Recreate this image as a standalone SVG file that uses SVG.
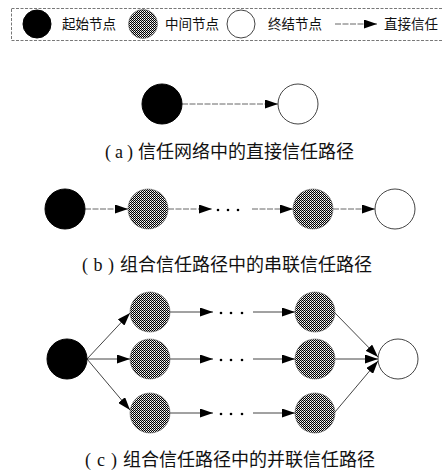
<svg xmlns="http://www.w3.org/2000/svg" width="442" height="472" viewBox="0 0 442 472">
<style>
.start{fill:#000;stroke:#000;stroke-width:1}
.mid{fill:url(#dots);stroke:#666;stroke-width:0.6}
.end{fill:#fff;stroke:#444;stroke-width:1}
.dash{stroke:#555;stroke-width:0.9;stroke-dasharray:6,1.5;fill:none}
.solid{stroke:#444;stroke-width:1;fill:none}
.lbl{font-family:"Noto Sans CJK SC","Liberation Sans",sans-serif;font-size:13.5px;fill:#111}
.cap{font-family:"Noto Sans CJK SC","Liberation Serif",sans-serif;font-size:18px;fill:#111}
.par{font-family:"Liberation Serif","Noto Sans CJK SC",serif;font-size:18px;fill:#111}
.dot{fill:#000}
</style>
<defs>
<pattern id="dots" width="2" height="2" patternUnits="userSpaceOnUse">
<rect width="2" height="2" fill="#fff"/>
<rect width="1" height="1" fill="#000"/>
<rect x="1" y="1" width="1" height="1" fill="#000"/>
<rect x="1" y="0" width="1" height="1" fill="#bbb"/>
</pattern>
<marker id="arr" markerWidth="13" markerHeight="9" refX="13" refY="4.5" orient="auto" markerUnits="userSpaceOnUse">
<path d="M0,0 L13,4.5 L0,9 z" fill="#000"/>
</marker>
</defs>

<g id="legend">
<rect x="11.5" y="8.5" width="440" height="32" fill="#fff" stroke="#555" stroke-width="0.8" stroke-dasharray="3,1.5"/>
<circle class="start" cx="37" cy="24" r="14"/>
<text class="lbl" x="62" y="29">起始节点</text>
<circle class="mid" cx="143" cy="24" r="14.5"/>
<text class="lbl" x="165" y="29">中间节点</text>
<circle class="end" cx="241" cy="24" r="14"/>
<text class="lbl" x="268" y="29">终结节点</text>
<line class="dash" x1="335" y1="24" x2="377" y2="24" marker-end="url(#arr)"/>
<text class="lbl" x="384" y="29">直接信任</text>
</g>

<g id="connectors">
<line class="dash" x1="182" y1="104" x2="278" y2="104" marker-end="url(#arr)"/>

<line class="dash" x1="85" y1="209" x2="128" y2="209" marker-end="url(#arr)"/>
<line class="dash" x1="168" y1="209" x2="212" y2="209" marker-end="url(#arr)"/>
<line class="dash" x1="252" y1="209" x2="293" y2="209" marker-end="url(#arr)"/>
<line class="dash" x1="333" y1="209" x2="375" y2="209" marker-end="url(#arr)"/>

<line class="solid" x1="87" y1="359" x2="130" y2="313" marker-end="url(#arr)"/>
<line class="solid" x1="87" y1="359" x2="130" y2="359" marker-end="url(#arr)"/>
<line class="solid" x1="87" y1="359" x2="130" y2="410" marker-end="url(#arr)"/>

<line class="solid" x1="170" y1="312" x2="213" y2="312" marker-end="url(#arr)"/>
<line class="solid" x1="253" y1="312" x2="295" y2="312" marker-end="url(#arr)"/>
<line class="solid" x1="170" y1="359" x2="213" y2="359" marker-end="url(#arr)"/>
<line class="solid" x1="253" y1="359" x2="295" y2="359" marker-end="url(#arr)"/>
<line class="solid" x1="170" y1="413" x2="213" y2="413" marker-end="url(#arr)"/>
<line class="solid" x1="253" y1="413" x2="295" y2="413" marker-end="url(#arr)"/>

<line class="solid" x1="335" y1="313" x2="378" y2="357" marker-end="url(#arr)"/>
<line class="solid" x1="335" y1="359" x2="378" y2="359" marker-end="url(#arr)"/>
<line class="solid" x1="335" y1="412" x2="378" y2="361" marker-end="url(#arr)"/>
</g>

<g id="dots-b">
<circle class="dot" cx="218" cy="210" r="1.3"/><circle class="dot" cx="228" cy="210" r="1.3"/><circle class="dot" cx="238" cy="210" r="1.3"/>
</g>
<g id="dots-c">
<circle class="dot" cx="221" cy="313" r="1.3"/><circle class="dot" cx="231" cy="313" r="1.3"/><circle class="dot" cx="242" cy="313" r="1.3"/>
<circle class="dot" cx="221" cy="360" r="1.3"/><circle class="dot" cx="231" cy="360" r="1.3"/><circle class="dot" cx="242" cy="360" r="1.3"/>
<circle class="dot" cx="221" cy="414" r="1.3"/><circle class="dot" cx="231" cy="414" r="1.3"/><circle class="dot" cx="242" cy="414" r="1.3"/>
</g>

<g id="a-start"><circle class="start" cx="162" cy="104" r="20"/></g>
<g id="a-end"><circle class="end" cx="298" cy="104" r="20"/></g>
<g id="a-caption"><text class="par" x="105" y="158" textLength="28" lengthAdjust="spacing">(a)</text><text class="cap" x="138" y="158">信任网络中的直接信任路径</text></g>

<g id="b-start"><circle class="start" cx="65" cy="209" r="20"/></g>
<g id="b-mid1"><circle class="mid" cx="148" cy="209" r="20"/></g>
<g id="b-mid2"><circle class="mid" cx="313" cy="209" r="20"/></g>
<g id="b-end"><circle class="end" cx="395" cy="209" r="20"/></g>
<g id="b-caption"><text class="par" x="82" y="271" textLength="32" lengthAdjust="spacing">(b)</text><text class="cap" x="120" y="271">组合信任路径中的串联信任路径</text></g>

<g id="c-start"><circle class="start" cx="67" cy="359" r="20"/></g>
<g id="c-mid1a"><circle class="mid" cx="150" cy="312" r="20"/></g>
<g id="c-mid2a"><circle class="mid" cx="150" cy="359" r="20"/></g>
<g id="c-mid3a"><circle class="mid" cx="150" cy="413" r="20"/></g>
<g id="c-mid1b"><circle class="mid" cx="315" cy="312" r="20"/></g>
<g id="c-mid2b"><circle class="mid" cx="315" cy="359" r="20"/></g>
<g id="c-mid3b"><circle class="mid" cx="315" cy="413" r="20"/></g>
<g id="c-end"><circle class="end" cx="398" cy="359" r="20"/></g>
<g id="c-caption"><text class="par" x="85" y="466" textLength="32" lengthAdjust="spacing">(c)</text><text class="cap" x="123" y="466">组合信任路径中的并联信任路径</text></g>
</svg>
